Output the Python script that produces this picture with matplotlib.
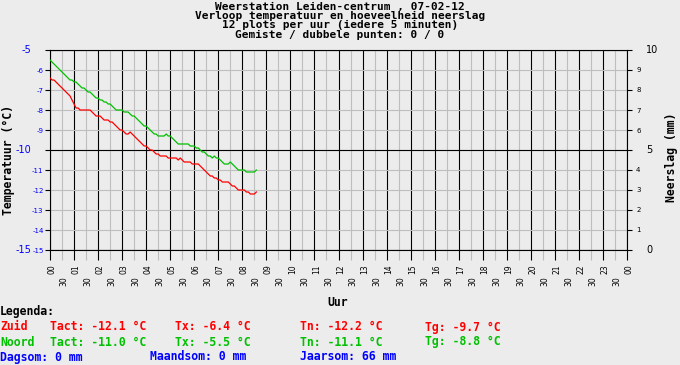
import numpy as np
import matplotlib
matplotlib.use("Agg")
import matplotlib.pyplot as plt
import matplotlib.transforms as mtransforms

# 5-minute samples from 00:00 to 08:35
minutes = np.arange(0, 520, 5)

zuid = [
    -6.4, -6.5, -6.5, -6.6, -6.7, -6.8, -6.9, -7.0, -7.1, -7.2, -7.3, -7.5,
    -7.7, -7.9, -7.9, -8.0, -8.0, -8.0, -8.0, -8.0, -8.0, -8.1, -8.2, -8.3,
    -8.3, -8.3, -8.4, -8.5, -8.5, -8.5, -8.6, -8.6, -8.7, -8.8, -8.9, -9.0,
    -9.0, -9.1, -9.2, -9.2, -9.1, -9.2, -9.3, -9.4, -9.5, -9.6, -9.7, -9.8,
    -9.8, -9.9, -10.0, -10.0, -10.1, -10.2, -10.2, -10.3, -10.3, -10.3, -10.3, -10.4,
    -10.4, -10.4, -10.4, -10.4, -10.5, -10.4, -10.5, -10.6, -10.6, -10.6, -10.6, -10.7,
    -10.7, -10.7, -10.7, -10.8, -10.9, -11.0, -11.1, -11.2, -11.3, -11.3, -11.4, -11.4,
    -11.5, -11.5, -11.6, -11.6, -11.6, -11.6, -11.7, -11.8, -11.8, -11.9, -12.0, -12.0,
    -12.0, -12.0, -12.1, -12.1, -12.2, -12.2, -12.2, -12.1,
]
noord = [
    -5.5, -5.6, -5.7, -5.8, -5.9, -6.0, -6.1, -6.2, -6.3, -6.4, -6.5, -6.5,
    -6.6, -6.6, -6.7, -6.8, -6.9, -6.9, -7.0, -7.1, -7.1, -7.2, -7.3, -7.4,
    -7.4, -7.5, -7.5, -7.6, -7.6, -7.7, -7.7, -7.8, -7.9, -8.0, -8.0, -8.0,
    -8.0, -8.1, -8.1, -8.1, -8.2, -8.3, -8.3, -8.4, -8.5, -8.6, -8.7, -8.8,
    -8.8, -8.9, -9.0, -9.1, -9.2, -9.2, -9.3, -9.3, -9.3, -9.3, -9.2, -9.3,
    -9.3, -9.4, -9.5, -9.6, -9.7, -9.7, -9.7, -9.7, -9.7, -9.7, -9.8, -9.8,
    -9.8, -9.9, -9.9, -10.0, -10.1, -10.1, -10.2, -10.3, -10.3, -10.4, -10.3, -10.4,
    -10.4, -10.5, -10.6, -10.7, -10.7, -10.7, -10.6, -10.7, -10.8, -10.9, -11.0, -11.0,
    -11.0, -11.0, -11.1, -11.1, -11.1, -11.1, -11.1, -11.0,
]

hour_labels = ["%02d" % (h % 24) for h in range(25)]
temp_small = [-15, -14, -13, -12, -11, -9, -8, -7, -6]
temp_big = [-5, -10, -15]
rain_small = [1, 2, 3, 4, 6, 7, 8, 9]
rain_big = [0, 5, 10]

title_lines = [
    "Weerstation Leiden-centrum , 07-02-12",
    "Verloop temperatuur en hoeveelheid neerslag",
    "12 plots per uur (iedere 5 minuten)",
    "Gemiste / dubbele punten: 0 / 0",
]
legend_rows = [
    ("#FF0000", ["Zuid", "Tact: -12.1 °C", "Tx: -6.4 °C", "Tn: -12.2 °C", "Tg: -9.7 °C"]),
    ("#00C000", ["Noord", "Tact: -11.0 °C", "Tx: -5.5 °C", "Tn: -11.1 °C", "Tg: -8.8 °C"]),
]
sums = ["Dagsom: 0 mm", "Maandsom: 0 mm", "Jaarsom: 66 mm"]

BG = "#ECECEC"
GRAY = "#BEBEBE"
BLUE = "#0000FF"
W, H = 680, 365
MONO = "DejaVu Sans Mono"

fig = plt.figure(figsize=(W / 100, H / 100), dpi=100)
fig.patch.set_facecolor(BG)
ax = fig.add_axes([50 / W, 115 / H, 577 / W, 200 / H])
ax.set_facecolor(BG)


def ftxt(x, y, s, **kw):
    fig.text(x / W, 1 - y / H, s, **kw)


def px(dx):
    return mtransforms.ScaledTranslation(dx / 100, 0, fig.dpi_scale_trans)


hours = minutes / 60.0
ax.plot(hours, zuid, color="#FF0000", lw=0.9, zorder=5)
ax.plot(hours, noord, color="#00C000", lw=0.9, zorder=5)

ax.set_xlim(0, 24)
ax.set_ylim(-15, -5)

# x axis: hours and half hours
ax.set_xticks(range(25))
ax.set_xticklabels(hour_labels, rotation=90, fontsize=5.5)
ax.set_xticks(np.arange(0.5, 24, 1), minor=True)
ax.set_xticklabels(["30"] * 24, minor=True, rotation=90, fontsize=5.5)
ax.tick_params(axis="x", which="major", length=7.2, width=0.8, color="black", pad=3)
ax.tick_params(axis="x", which="minor", length=7.2, width=0.8, color=GRAY, pad=12)
for lab in ax.get_xticklabels() + ax.get_xticklabels(minor=True):
    lab.set_transform(lab.get_transform() + px(2))
ax.grid(which="major", axis="x", color="black", lw=0.8)
ax.grid(which="minor", axis="x", color=GRAY, lw=0.8)

# left axis: temperature
ax.set_yticks(range(-15, -4))
ax.set_yticklabels([str(v) if v in temp_small else "" for v in range(-15, -4)],
                   fontsize=5, color=BLUE)
ax.tick_params(axis="y", length=3.6, width=0.8, pad=1)
ax.grid(which="major", axis="y", color=GRAY, lw=0.8)
for v in temp_big:
    ax.axhline(v, color="black", lw=0.8, zorder=1.5)
    ax.text(0, v, str(v), transform=ax.get_yaxis_transform() + px(-19),
            ha="right", va="center", fontsize=7, color=BLUE, clip_on=False)
ax.set_axisbelow(True)
for s in ax.spines.values():
    s.set_color("black")
    s.set_linewidth(0.8)

# right axis: precipitation (no rain today)
ax2 = ax.twinx()
ax2.set_ylim(0, 10)
ax2.set_yticks(range(11))
ax2.set_yticklabels([str(v) if v in rain_small else "" for v in range(11)], fontsize=5)
ax2.tick_params(axis="y", length=3.6, width=0.8, pad=3)
for v in rain_big:
    ax2.text(1.0, v, str(v), transform=ax2.get_yaxis_transform() + px(19),
             ha="left", va="center", fontsize=7)
for s in ax2.spines.values():
    s.set_visible(False)

# texts
ftxt(340, 2, "\n".join(title_lines), ha="center", va="top", family=MONO,
     fontweight="bold", fontsize=8.0, linespacing=0.9)
ftxt(9, 160, "Temperatuur (°C)", rotation=90, ha="center", va="center", family=MONO,
     fontweight="bold", fontsize=8.3)
ftxt(672, 157, "Neerslag (mm)", rotation=90, ha="center", va="center", family=MONO,
     fontweight="bold", fontsize=8.3)
ftxt(338, 302, "Uur", ha="center", va="center", family=MONO, fontweight="bold", fontsize=8.3)

ftxt(0, 312, "Legenda:", ha="left", va="center", family=MONO, fontweight="bold", fontsize=8.3)
cols = [0, 50, 175, 300, 425]
for r, (color, parts) in enumerate(legend_rows):
    for x, p in zip(cols, parts):
        ftxt(x, 327 + 15 * r, p, ha="left", va="center", family=MONO,
             fontweight="bold", fontsize=8.3, color=color)
for x, p in zip([0, 150, 300], sums):
    ftxt(x, 357, p, ha="left", va="center", family=MONO, fontweight="bold",
         fontsize=8.3, color=BLUE)

fig.savefig("out.png", dpi=100, facecolor=fig.get_facecolor())
